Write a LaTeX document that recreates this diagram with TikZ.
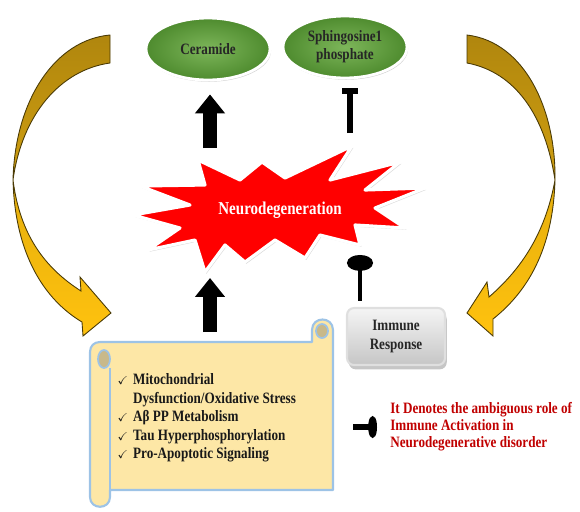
\documentclass[tikz,border=0pt]{standalone}
\usepackage{amssymb}
\usepackage{fontspec}
\setmainfont{Liberation Serif}[FakeStretch=0.83]
\usepackage{tikz}
\usetikzlibrary{arrows.meta,positioning,shapes.geometric,shadows}

\definecolor{leafin}{HTML}{7DB65A}
\definecolor{leafout}{HTML}{4E8B2E}
\definecolor{parch}{HTML}{FDE7A6}
\definecolor{parchedge}{HTML}{9DC3E6}
\definecolor{curlfill}{HTML}{C8B98A}
\definecolor{goldback}{HTML}{CF9E10}
\definecolor{goldfront}{HTML}{FFC20E}
\definecolor{goldline}{HTML}{4A3A05}
\definecolor{notered}{HTML}{C00000}

\begin{document}
\begin{tikzpicture}[x=0.02cm,y=-0.02cm,
  lbl/.style={font=\bfseries\fontsize{9}{10.4}\selectfont,text=black!85,align=center},
  leaf/.style={ellipse,lbl,draw=white,line width=1.6pt,inner color=leafin,outer color=leafout,
    minimum width=2.48cm,minimum height=1.24cm,inner sep=0pt,
    drop shadow={opacity=0.35,shadow xshift=0.6pt,shadow yshift=-1pt}},
  greybox/.style={lbl,rectangle,rounded corners=4pt,draw=gray!25,line width=1.2pt,
    top color=gray!8,bottom color=gray!45,minimum width=1.96cm,minimum height=1.14cm,
    drop shadow={opacity=0.45,shadow xshift=1pt,shadow yshift=-2.5pt}},
  burstshape/.style={fill=red,draw=white,line width=1.8pt,line join=round,
    drop shadow={opacity=0.3,shadow xshift=0.8pt,shadow yshift=-1pt}},
  blockarrow/.style={line width=7.9pt,-{Triangle[length=10.8pt,width=16.5pt]}},
  inhibit/.style={line width=3.4pt,-{Rectangle[length=3.4pt,width=9.5pt]}},
  lolli/.style={line width=2.8pt,-{Ellipse[length=9pt,width=14.7pt]}},
  keylolli/.style={line width=3.8pt,-{Ellipse[length=5pt,width=12pt]}},
  scrollpaper/.style={fill=parch,draw=parchedge,line width=1.2pt,line join=round},
  scrollcurl/.style={fill=curlfill,draw=parchedge,line width=1pt},
  curveback/.style={top color=goldback!85!black,bottom color=goldback,draw=goldline,line width=0.5pt},
  curvefront/.style={top color=goldfront!90!black,bottom color=goldfront,draw=goldline,line width=0.5pt},
  listtxt/.style={font=\bfseries\fontsize{9}{10.6}\selectfont,text=black!90,inner sep=0pt},
  notetxt/.style={font=\bfseries\fontsize{9}{9.6}\selectfont,text=notered,align=left,inner sep=0pt}]
  \useasboundingbox (0,0) rectangle (580,511);

  % side arrows
  \draw[curveback] (110,35) .. controls (55,40) and (15,100) .. (13,180)
    .. controls (22,115) and (60,70) .. (110,63) -- cycle;
  \draw[curvefront] (13,180) .. controls (15,255) and (45,300) .. (82,322)
    -- (83,336) -- (111,313) -- (80,277) -- (81,291)
    .. controls (45,268) and (20,235) .. (13,180) -- cycle;
  \draw[curveback] (467,35) .. controls (525,42) and (556,110) .. (555,180)
    .. controls (545,115) and (515,72) .. (467,63) -- cycle;
  \draw[curvefront] (555,180) .. controls (553,250) and (527,292) .. (493,319)
    -- (493,336) -- (467,313) -- (487,282) -- (489,297)
    .. controls (520,270) and (545,235) .. (555,180) -- cycle;

  % top ellipses
  \node[leaf] (ceramide) at (208,49) {Ceramide};
  \node[leaf] (s1p) at (345,47) {Sphingosine1\\phosphate};

  % star
  \draw[burstshape] (133,215) -- (190,205) -- (140,186) -- (205,185) -- (198,160)
    -- (240,180) -- (262,162) -- (285,178) -- (352,146) -- (330,180) -- (400,162)
    -- (365,190) -- (425,188) -- (375,208) -- (405,228) -- (355,225) -- (360,245)
    -- (320,235) -- (305,258) -- (275,240) -- (245,262) -- (225,245) -- (205,272)
    -- (195,240) -- (148,250) -- (180,228) -- cycle;
  \node[lbl,text=white,font=\bfseries\fontsize{10.3}{12}\selectfont] (burst) at (280,210) {Neurodegeneration};

  % scroll
  \draw[scrollpaper] (90,352) .. controls (90,346) and (94,342) .. (100,342) -- (312,342)
    -- (312,330) .. controls (312,316) and (333,316) .. (333,330) -- (333,490)
    -- (110,490) -- (110,497) .. controls (110,510) and (90,510) .. (90,497) -- cycle;
  \draw[scrollcurl] (322,331) ellipse [x radius=6,y radius=7];
  \draw[scrollcurl] (104,359) ellipse [x radius=6,y radius=9];
  \draw[draw=parchedge,line width=1pt] (110,368) -- (110,497);
  \node[listtxt,anchor=north west] (list) at (117,371) {%
    \begin{tabular}{@{}l@{}l@{}}
    \makebox[9pt][l]{\fontsize{6.5}{6.5}\selectfont$\checkmark$} & Mitochondrial\\
     & Dysfunction/Oxidative Stress\\
    \makebox[9pt][l]{\fontsize{6.5}{6.5}\selectfont$\checkmark$} & Aβ PP Metabolism\\
    \makebox[9pt][l]{\fontsize{6.5}{6.5}\selectfont$\checkmark$} & Tau Hyperphosphorylation\\
    \makebox[9pt][l]{\fontsize{6.5}{6.5}\selectfont$\checkmark$} & Pro-Apoptotic Signaling
    \end{tabular}};

  % immune response
  \node[greybox] (immune) at (396,336.5) {Immune\\Response};

  % connectors
  \coordinate (cerfoot) at (210,148);
  \coordinate (listtop) at (210,332);
  \coordinate (burstfoot) at (210,278);
  \coordinate (s1pfoot) at (350,133);
  \coordinate (lollitop) at (360,255);
  \draw[blockarrow,shorten >=7.4pt] (cerfoot) -- (cerfoot |- ceramide.south);
  \draw[blockarrow] (listtop) -- (burstfoot);
  \draw[inhibit,shorten >=5.1pt] (s1pfoot) -- (s1pfoot |- s1p.south);
  \draw[lolli,shorten <=3.4pt] (lollitop |- immune.north) -- (lollitop);

  % legend
  \coordinate (keytail) at (353,427);
  \coordinate (keyhead) at (377,427);
  \draw[keylolli] (keytail) -- (keyhead);
  \node[notetxt,anchor=north west] (note) at (390,402) {It Denotes the ambiguous role of\\Immune Activation in\\Neurodegenerative disorder};
\end{tikzpicture}
\end{document}
